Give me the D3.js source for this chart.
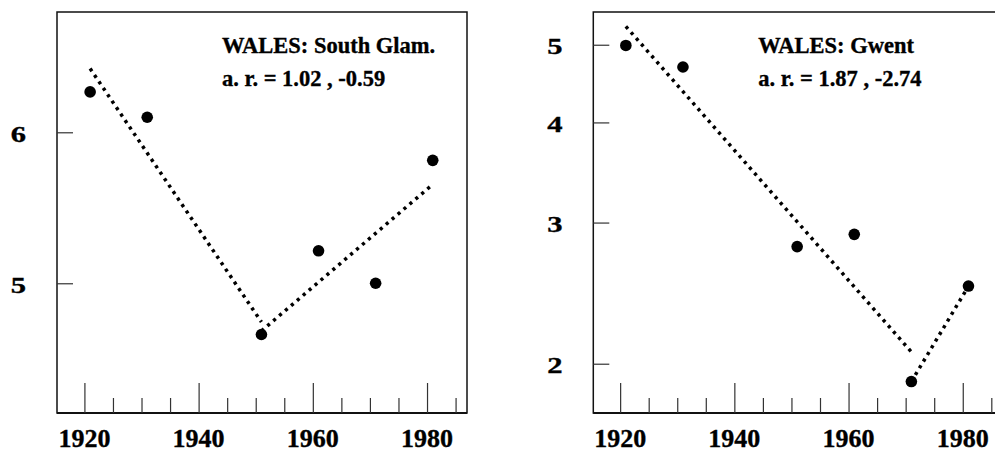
<!DOCTYPE html>
<html><head><meta charset="utf-8">
<script src="https://cdn.jsdelivr.net/npm/d3@7"></script>
<style>
html,body{margin:0;padding:0;background:#fff;overflow:hidden}
text{font-family:"Liberation Serif","Times New Roman",Times,serif;font-weight:700;fill:#000;stroke:#000;stroke-width:0.35px}
</style></head><body>
<svg id="chart" width="995" height="453"></svg>
<script>
// Census years and the two county series
const years = [1921, 1931, 1951, 1961, 1971, 1981];
const southGlamValues = [6.30, 6.11, 4.70, 5.20, 5.00, 5.80];
const gwentValues = [4.99, 4.69, 2.80, 2.90, 1.90, 2.50];

// Axis ticks
const xTickYears = [1920, 1940, 1960, 1980];
const southGlamTicks = [5, 6];
const gwentTicks = [2, 3, 4, 5];

// Fitted trend segments: period, fitted value at the start, annual rate (%)
const southGlamSegments = [[1921, 1951], [1951, 1981]];
const southGlamFitStart = [6.48, 4.72];
const southGlamRates = [1.02, -0.59];
const gwentSegments = [[1921, 1971], [1971, 1981]];
const gwentFitStart = [5.27, 1.90];
const gwentRates = [1.87, -2.74];

const titles = ["WALES: South Glam.", "WALES: Gwent"];

const svg = d3.select("#chart");
const frameTop = 12, frameBottom = 413, frameW = 410;

const panels = [
  { left: 57, xDomain: [1915.2, 1987], yDomain: [4.275, 6.938],
    values: southGlamValues, ticks: southGlamTicks,
    segments: southGlamSegments, fitStart: southGlamFitStart, rates: southGlamRates,
    title: titles[0] },
  { left: 593.3, xDomain: [1915.3, 1987.1], yDomain: [1.736, 5.493],
    values: gwentValues, ticks: gwentTicks,
    segments: gwentSegments, fitStart: gwentFitStart, rates: gwentRates,
    title: titles[1] }
];

// plain hyphen for negative rates
const fmt = v => (v < 0 ? "-" : "") + Math.abs(v).toFixed(2);

panels.forEach(p => {
  const g = svg.append("g");
  const x = d3.scaleLinear().domain(p.xDomain).range([p.left, p.left + frameW]);
  const y = d3.scaleLog().domain(p.yDomain).range([frameBottom, frameTop]);

  // frame
  g.append("rect")
    .attr("x", p.left).attr("y", frameTop)
    .attr("width", frameW).attr("height", frameBottom - frameTop)
    .attr("fill", "none").attr("stroke", "#111").attr("stroke-width", 1.5);
  g.append("line")
    .attr("x1", p.left).attr("x2", p.left + frameW)
    .attr("y1", frameBottom).attr("y2", frameBottom)
    .attr("stroke", "#111").attr("stroke-width", 2);

  // x ticks every five years, pointing inward
  const xAxis = d3.axisTop(x)
    .tickValues(d3.range(1920, 1986, 5))
    .tickSize(15).tickFormat("");
  const xa = g.append("g").attr("transform", `translate(0,${frameBottom})`).call(xAxis);
  xa.select(".domain").remove();
  xa.selectAll(".tick line")
    .attr("stroke", "#333").attr("stroke-width", 1.2)
    .attr("y2", d => d % 20 === 0 ? -30 : -15);

  g.selectAll(".xlab").data(xTickYears).join("text")
    .attr("class", "xlab")
    .attr("x", d => x(d)).attr("y", 447)
    .attr("text-anchor", "middle")
    .style("font-size", "26px")
    .text(d => d);

  // y ticks, pointing inward
  const yAxis = d3.axisRight(y).tickValues(p.ticks).tickSize(16).tickFormat("");
  const ya = g.append("g").attr("transform", `translate(${p.left},0)`).call(yAxis);
  ya.select(".domain").remove();
  ya.selectAll(".tick line").attr("stroke", "#333").attr("stroke-width", 1.2);

  g.selectAll(".ylab").data(p.ticks).join("text")
    .attr("class", "ylab")
    .attr("transform", d => `translate(${p.left - 38.5},${y(d) + 2}) scale(1.3,1)`)
    .attr("text-anchor", "middle")
    .attr("dominant-baseline", "central")
    .style("font-size", "23.5px")
    .text(d => d);

  // fitted trend segments (straight on the log scale)
  p.segments.forEach((seg, i) => {
    const [t0, t1] = seg;
    const v0 = p.fitStart[i];
    const v1 = v0 * Math.exp(-p.rates[i] / 100 * (t1 - t0));
    g.append("line")
      .attr("x1", x(t0)).attr("y1", y(v0))
      .attr("x2", x(t1)).attr("y2", y(v1))
      .attr("stroke", "#000").attr("stroke-width", 3.5)
      .attr("stroke-dasharray", "3.2,4.6");
  });

  // observed points
  g.selectAll(".pt").data(years.map((yr, i) => [yr, p.values[i]])).join("circle")
    .attr("class", "pt")
    .attr("cx", d => x(d[0])).attr("cy", d => y(d[1]))
    .attr("r", 5.8).attr("fill", "#000");

  // heading
  const tx = p.left + 165;
  g.append("text").attr("x", tx).attr("y", 53)
    .style("font-size", "22.5px").text(p.title);
  g.append("text").attr("x", tx).attr("y", 85.5)
    .style("font-size", "22.5px")
    .text(`a. r. = ${fmt(p.rates[0])} , ${fmt(p.rates[1])}`);
});
</script>
</body></html>
